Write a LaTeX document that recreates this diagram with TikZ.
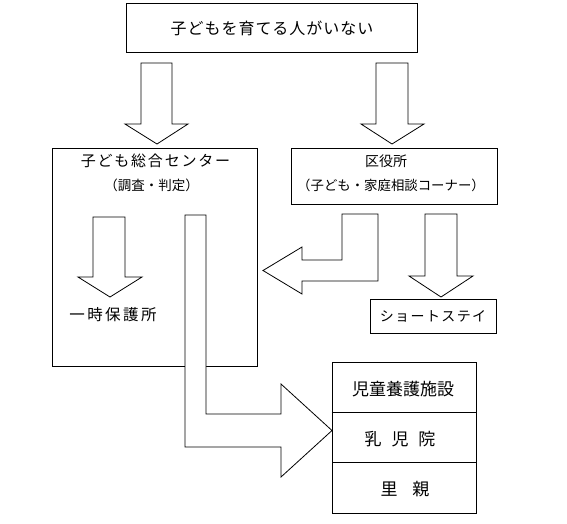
\documentclass[tikz,border=0pt]{standalone}
\usepackage{fontspec}
\setmainfont{Noto Sans CJK JP}
\newcommand{\ls}[1]{\addfontfeature{LetterSpace=#1}}
\begin{document}
\begin{tikzpicture}[x=1pt,y=-1pt,
  box/.style={draw=black,line width=0.8pt,fill=white,inner sep=0pt,rectangle},
  txt/.style={inner sep=0pt,anchor=center},
  blockarrow/.style={draw=black,line width=0.8pt,fill=white,line join=miter}]
\useasboundingbox[fill=white] (0,0) rectangle (567,523);
% boxes
\node[box,minimum width=291pt,minimum height=49pt] (top) at (271.5,27.5) {};
\node[txt,font=\fontsize{16pt}{20pt}\selectfont\ls{6}] (toptxt) at (272,28) {子どもを育てる人がいない};
\node[box,minimum width=205pt,minimum height=218pt] (center) at (154.5,257) {};
\node[txt,font=\fontsize{15pt}{20pt}\selectfont\ls{12}] (ctr1) at (155.5,161) {子ども総合センター};
\node[txt,font=\fontsize{13.5pt}{14pt}\selectfont] (ctr2) at (151.5,185) {（調査・判定）};
\node[box,minimum width=206pt,minimum height=56pt] (ward) at (394,176) {};
\node[txt,font=\fontsize{14pt}{15pt}\selectfont] (ward1) at (386,161) {区役所};
\node[txt,font=\fontsize{13.4pt}{15pt}\selectfont] (ward2) at (391,185) {（子ども・家庭相談コーナー）};
\node[box,minimum width=126pt,minimum height=34pt] (short) at (433,316) {};
\node[txt,font=\fontsize{14pt}{18pt}\selectfont\ls{10}] (shorttxt) at (433,316) {ショートステイ};
% arrows
\draw[blockarrow] (141,63) -- (172,63) -- (172,124) -- (188,124) -- (157,144) -- (125,124) -- (141,124) -- cycle;
\draw[blockarrow] (376,63) -- (408,63) -- (408,124) -- (424,124) -- (392,144) -- (361,124) -- (376,124) -- cycle;
\draw[blockarrow] (93,217) -- (125,217) -- (125,277) -- (142,277) -- (110,297) -- (78,277) -- (93,277) -- cycle;
\node[txt,font=\fontsize{15.5pt}{20pt}\selectfont\ls{16}] (temp) at (113,315) {一時保護所};
\draw[blockarrow] (342,214) -- (378,214) -- (378,281) -- (302,281) -- (302,294) -- (263,270.5) -- (302,247) -- (302,260) -- (342,260) -- cycle;
\draw[blockarrow] (425,214) -- (457,214) -- (457,276) -- (473,276) -- (441,297) -- (409,276) -- (425,276) -- cycle;
% stack
\node[box,minimum width=144pt,minimum height=50pt] (s1) at (404,387) {};
\node[box,minimum width=144pt,minimum height=50pt] (s2) at (404,437) {};
\node[box,minimum width=144pt,minimum height=51pt] (s3) at (404,487.5) {};
\draw[line width=1.6pt] (s1.south west) -- (s1.south east);
\node[txt,font=\fontsize{17pt}{20pt}\selectfont] (s1t) at (403,389) {児童養護施設};
\node[txt,font=\fontsize{17pt}{20pt}\selectfont] (s2t) at (400,439) {乳\hspace{10pt}児\hspace{10pt}院};
\node[txt,font=\fontsize{17pt}{20pt}\selectfont] (s3t) at (405,489) {里\hspace{15pt}親};
\draw[blockarrow] (185,215) -- (206,215) -- (206,414) -- (281,414) -- (281,384) -- (332,430.5) -- (281,477) -- (281,447) -- (185,447) -- cycle;
\end{tikzpicture}
\end{document}
